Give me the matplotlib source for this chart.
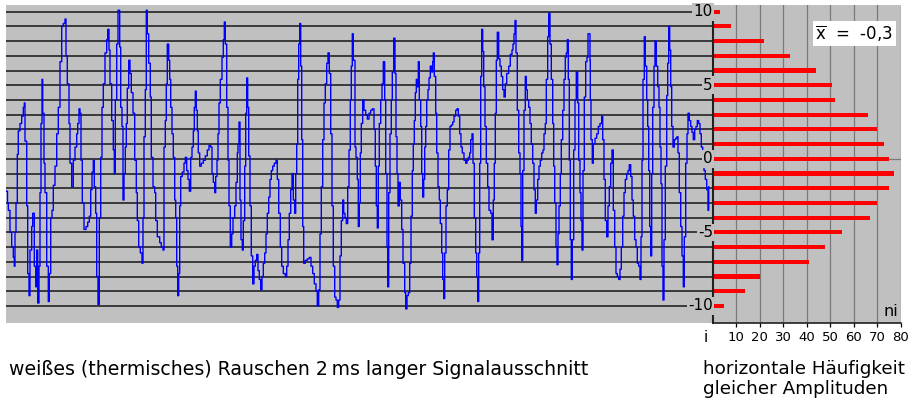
import numpy as np
import matplotlib
matplotlib.use("Agg")
import matplotlib.pyplot as plt

plt.rcParams['font.family'] = ['DejaVu Sans']
plt.rcParams['mathtext.fontset'] = 'dejavusans'

# ---------------- data ----------------
# signal: horizontal sample position (as read, arbitrary units) and amplitude
seg1_pos = [6.7,7.5,8.3,10.0,11.7,13.3,14.3,15.0,16.0,17.3,18.3,20.0,21.7,23.3,24.3,25.0,26.7,27.7,29.0,30.0,
            31.7,32.7,34.3,35.7,36.7,37.7,39.0,40.0,41.0,42.0,42.7,44.0,45.0,46.7,48.3,49.3,50.7,52.0,53.3,55.0,
            56.7,58.3,60.0,61.7,63.3,65.0,66.0,67.3,69.0,70.0,71.7,73.3,75.0,76.7,77.7,79.0,80.0,81.0,82.3,84.0,
            86.0,87.7,89.3,90.7,92.0,93.3,94.3,95.7,96.7,98.0,99.3,100.7,102.0,103.3,105.0,106.7,107.7,109.0,110.0,111.7,
            113.3,114.3,115.3,116.7,118.0]
seg1_val = [-2.2,-3.0,-3.5,-5.0,-6.0,-6.7,-7.3,-5.0,-3.0,0.3,1.9,2.4,2.9,3.5,3.8,1.2,-3.2,-7.8,-9.3,-6.2,
            -4.6,-3.7,-7.3,-8.7,-6.2,-9.8,-7.3,-2.3,2.4,5.4,3.1,-0.3,-2.3,-7.3,-9.7,-7.8,-4.0,-3.5,-1.8,-0.5,
            1.7,3.5,6.6,9.0,9.2,9.5,7.0,5.1,2.4,-0.3,-1.9,-0.1,0.8,1.7,2.4,3.4,3.1,-0.1,-3.0,-4.8,
            -4.6,-4.3,-3.9,-2.1,-0.9,-0.1,-1.9,-3.7,-8.0,-9.9,-4.0,0.1,3.5,5.1,7.2,8.1,8.8,7.4,5.1,2.6,
            0.6,-1.0,4.0,7.8,10.1]

seg2_pos = [119.7,120.7,122.0,123.0,124.0,125.3,126.3,127.3,128.7,130.0,131.3,133.0,134.7,136.3,137.3,138.7,140.3,142.0,143.0,144.0,
            145.3,146.3,147.3,148.7,150.3,151.3,153.0,154.7,155.7,157.3,159.7,161.3,163.0,164.0,165.3,166.3,167.3,168.7,169.7,170.7,
            172.0,173.3,174.7,175.7,176.7,177.7,178.7,179.7,180.7,182.3,184.0,185.3,186.7,188.0,189.3,190.7,192.0,193.3,194.3,195.3,
            196.3,197.3,198.3,199.7,201.3,203.3,205.3,207.3,209.0,210.7,212.0,213.3,214.7,215.7,217.0,218.0,219.0,220.3,222.0,223.3,
            224.3,225.3,226.7,228.0,229.0,230.3,231.7,233.0,234.7,236.0,237.3]
seg2_val = [7.6,3.5,2.2,-2.8,-1.0,0.8,2.4,4.8,6.7,5.8,4.5,3.1,-0.1,-2.3,-4.2,-6.0,-6.4,-7.1,-4.0,1.5,
            4.7,10.1,8.5,6.5,4.2,0.1,-1.9,-2.3,-4.2,-5.3,-5.7,-6.0,-6.2,0.8,2.6,5.1,7.8,6.7,5.4,3.5,
            1.7,0.1,-2.8,-4.0,-7.3,-9.3,-7.8,-3.2,-1.2,-0.9,-0.3,0.1,-0.8,-1.4,-2.2,0.1,0.8,1.9,3.5,4.6,
            3.3,1.9,0.4,-0.5,-0.3,-0.1,0.2,0.6,0.9,0.8,-1.0,-1.6,-2.3,-1.2,-0.1,1.7,3.8,5.4,6.9,8.1,
            9.3,7.8,3.5,-0.1,-3.2,-6.0,-5.1,-4.0,-3.2,-1.6,0.4]

seg3_pos = [238.0,239.0,240.0,241.0,242.3,243.3,244.7,245.7,246.7,247.7,248.7,250.0,251.3,252.7,254.0,255.3,256.7,258.0,259.3,260.7,
            262.0,263.3,264.7,266.0,267.3,268.7,270.0,271.3,272.7,274.3,276.0,277.3,278.7,280.3,281.7,283.3,285.3,286.7,288.0,289.3,
            290.7,292.0,293.3,294.7,295.7,296.7,297.7,298.7,299.7,300.7,301.7,302.7,303.7,305.3,307.3,309.3,311.0,312.7,314.3,316.0,
            317.3,318.7,320.0,321.3,322.7,324.0,325.3,326.7,328.0,329.3,330.7,332.0,333.3,334.7,336.0,337.3,338.7,340.0,341.3,342.7,
            343.7,345.0,346.3,347.7,349.0,350.3,351.3,352.3,353.3]
seg3_val = [1.0,2.5,-2.8,-5.5,-6.2,-4.2,-0.5,3.1,5.5,3.5,0.2,-3.2,-6.6,-8.5,-7.3,-6.9,-6.5,-7.6,-8.2,-8.9,
            -8.0,-7.1,-6.4,-5.1,-3.7,-2.6,-1.4,-0.8,-0.5,-0.3,-0.1,-1.4,-3.7,-6.0,-7.3,-7.8,-8.0,-7.3,-5.5,-3.7,
            -2.1,-1.0,-2.8,-3.7,-1.0,1.0,5.4,7.8,9.2,6.3,1.3,-4.6,-7.1,-6.9,-6.8,-6.7,-7.3,-7.8,-8.5,-9.0,
            -10.0,-8.9,-5.1,-1.9,1.3,3.8,5.1,6.5,7.2,5.8,1.7,-3.2,-7.3,-9.4,-9.6,-10.1,-9.6,-6.6,-4.2,-2.8,
            -3.7,-4.0,-4.4,-1.9,0.6,4.0,6.3,8.5,6.7]

seg4_pos = [354.0,355.0,356.0,357.3,358.3,359.3,360.3,361.3,362.7,364.0,365.7,367.3,369.0,370.7,372.3,374.0,375.3,376.3,377.3,378.3,
            379.3,380.7,382.0,383.3,384.7,385.7,387.0,387.7,388.7,390.0,391.3,392.3,393.7,395.0,396.0,397.0,398.0,399.3,400.3,401.7,
            403.0,404.7,405.7,407.0,408.3,409.7,411.0,412.3,413.3,414.3,415.3,416.3,417.3,418.3,419.3,420.7,421.7,422.7,423.7,424.7,
            425.7,426.7,428.0,429.0,430.3,431.7,432.7,433.3,434.3,435.7,436.7,438.0,439.3,440.3,441.7,442.7,443.7,444.7,446.0,447.3,
            448.7,450.0,451.3,452.7,454.0,455.7,457.0,458.3,459.7,461.0,462.3,464.0,465.7,467.0,468.3,469.7,470.7,472.0]
seg4_val = [6.7,0.8,0.1,-1.4,-4.6,-3.0,0.4,2.4,4.0,3.3,3.0,2.7,3.1,3.3,3.4,2.0,-0.5,-3.2,-4.7,-0.5,
            2.4,4.0,5.1,6.6,4.0,-1.0,-6.0,-8.7,-2.3,1.7,4.0,5.9,8.2,5.8,1.5,-1.0,-3.2,-1.6,-2.8,-4.8,
            -7.1,-9.1,-10.2,-9.3,-9.1,-7.1,-3.9,-0.8,1.0,2.6,4.5,5.4,4.9,6.6,4.0,2.2,-1.0,-2.6,-1.4,0.8,
            2.2,4.0,4.7,5.5,6.3,5.9,6.6,7.2,5.6,3.1,0.4,-1.9,-2.8,-4.4,-6.4,-8.2,-9.5,-6.4,-3.2,-2.1,
            0.6,2.2,2.3,2.5,2.9,3.3,3.4,2.9,1.7,0.8,0.4,-0.1,-0.3,-0.1,0.1,0.4,1.3,1.7]

seg5_pos = [473.0,474.3,475.7,476.7,477.7,478.7,479.7,480.7,481.7,482.7,483.7,485.0,486.3,487.7,489.0,490.7,492.0,493.3,494.3,495.3,
            496.3,497.3,498.7,500.0,501.3,502.7,504.0,505.3,506.7,508.7,510.3,512.0,513.0,514.0,515.0,516.0,517.3,518.7,520.0,521.0,
            521.7,522.7,524.0,525.3,526.3,527.3,528.7,530.0,531.3,532.7,534.0,535.3,536.3,537.7,539.0,540.3,541.7,543.0,544.0,545.3,
            546.3,547.7,548.7,550.0,551.3,552.7,553.7,554.7,556.0,557.0,558.0,559.0,560.3,561.3,562.7,564.0,565.3,566.3,567.3,568.3,
            569.3,570.3,571.3,572.3,573.7,575.0,576.3,577.7,578.7,580.0,581.0,582.0,583.0,584.3,585.7,587.0,588.0]
seg5_val = [-0.3,-4.0,-6.4,-8.0,-9.7,-6.4,-0.3,5.6,8.8,7.3,4.9,2.2,-0.3,-1.9,-3.5,-3.7,-5.5,-2.8,-0.3,3.1,
            6.7,8.6,6.8,6.3,5.6,4.7,4.2,5.1,5.8,6.3,7.1,7.4,7.8,8.5,9.4,7.2,3.3,0.4,-1.0,-4.6,
            -6.9,-0.8,3.3,5.6,4.7,4.0,3.5,2.4,1.0,-0.3,-2.1,-3.7,-2.8,-1.4,-0.5,-0.1,0.4,0.6,1.7,2.4,
            5.4,8.3,9.9,7.8,5.4,2.4,-0.5,-3.0,-6.0,-7.2,-5.1,-3.2,-1.0,1.3,3.3,5.4,6.9,7.2,8.1,5.4,
            -0.1,-5.5,-8.2,-5.5,0.6,4.0,5.9,3.8,-0.1,-2.3,-4.2,-6.2,-0.8,4.2,6.6,6.9,8.5]

seg6_pos = [590.0,590.3,591.0,592.3,593.3,595.0,596.7,598.3,600.0,601.7,602.7,604.0,605.3,606.7,608.0,609.3,610.7,612.0,613.3,614.7,
            616.0,617.3,618.7,620.0,621.3,622.7,624.0,625.3,626.7,628.0,629.3,630.7,632.0,633.3,634.7,636.0,637.3,638.7,640.0,641.0,
            642.0,643.0,644.3,645.3,646.7,647.7,648.7,649.7,650.7,651.7,652.7,654.0,655.0,656.3,657.7,659.0,660.0,661.0,662.0,663.0,
            664.0,665.3,666.7,667.7,668.7,669.7,670.7,671.7,673.0,674.3,675.7,677.0,678.0,679.3,680.7,682.0,683.3,684.3,685.7,687.0,
            688.0,689.3,690.7,692.0,693.3,694.7,696.0,697.3,698.7,700.0,701.3,702.7,704.0,705.3,706.7,708.0,708.7]
seg6_val = [6.7,4.0,1.3,-0.3,1.0,1.4,1.7,2.2,2.4,2.9,1.3,-1.4,-4.2,-5.3,-3.2,-1.9,-0.3,0.6,-3.5,-6.0,
            -7.8,-8.0,-8.2,-7.5,-6.0,-3.9,-2.3,-1.4,-1.0,-0.8,-0.4,-1.2,-2.8,-3.9,-5.5,-6.0,-7.1,-7.3,-8.2,-5.3,
            -0.1,5.4,8.3,6.3,4.0,2.2,-0.8,-4.6,-6.6,-1.0,3.5,6.3,8.0,6.3,4.9,3.5,0.8,-1.7,-7.3,-9.6,
            -5.5,-0.5,4.3,6.5,9.0,7.4,4.9,2.2,0.8,1.3,1.4,1.5,0.4,-2.3,-4.6,-6.6,-8.7,-5.3,-0.3,1.7,
            3.1,2.6,2.2,1.8,1.3,2.0,2.2,2.6,2.4,1.7,0.8,0.1,-0.8,-1.4,-2.1,-3.5,-1.9]

# histogram of equal amplitudes
hist_levels = [10, 9, 8, 7, 6, 5, 4, 3, 2, 1, 0, -1, -2, -3, -4, -5, -6, -7, -8, -9, -10]
hist_counts = [3, 8, 22, 33, 44, 51, 52, 66, 70, 73, 75, 77, 75, 70, 67, 55, 48, 41, 20, 14, 5]
level_labels = [10, 5, 0, -5, -10]
count_ticks = [10, 20, 30, 40, 50, 60, 70, 80]
mean_text = "-0,3"

# --------------- figure ---------------
W, H = 908, 401
fig = plt.figure(figsize=(W / 100, H / 100), dpi=100)
fig.patch.set_facecolor('white')

def rect(x0, y0, x1, y1):
    return [x0 / W, 1 - y1 / H, (x1 - x0) / W, (y1 - y0) / H]

GRAY = '#c0c0c0'
YLIM = (-11.18, 10.455)

ax = fig.add_axes(rect(6, 5, 712.5, 323.3))
ax.set_facecolor(GRAY)
for s in ax.spines.values():
    s.set_visible(False)
ax.set_xticks([]); ax.set_yticks([])
ax.set_xlim(6, 712.5)
ax.set_ylim(*YLIM)

for lv in range(-10, 11):
    ax.axhline(lv, color='#1c1c1c', lw=1.15, zorder=1)

pos = np.concatenate([seg1_pos, seg2_pos, seg3_pos, seg4_pos, seg5_pos, seg6_pos])
val = np.concatenate([seg1_val, seg2_val, seg3_val, seg4_val, seg5_val, seg6_val])
assert len(pos) == len(val), (len(pos), len(val))
ax.plot(pos, val, color='#0000ff', lw=1.0, zorder=3, drawstyle='steps-post')

# histogram panel
axh = fig.add_axes(rect(712.5, 5, 900.7, 323.3))
axh.set_facecolor(GRAY)
axh.set_xlim(0, 80)
axh.set_ylim(*YLIM)
for k in ['top', 'right', 'left']:
    axh.spines[k].set_visible(False)
axh.spines['bottom'].set_color('#202020')
axh.spines['bottom'].set_linewidth(1.2)
for t in count_ticks:
    axh.axvline(t, color='#7a7a7a', lw=0.9, zorder=1)
axh.axhline(0, color='#7a7a7a', lw=0.9, zorder=1)
axh.plot([0, 0], [YLIM[0], 9.6], color='#202020', lw=1.5, zorder=4, clip_on=False)
axh.barh(hist_levels, hist_counts, height=0.28, color='#ff0000', zorder=3)
axh.set_yticks([])
axh.set_xticks(count_ticks)
axh.set_xticklabels([str(t) for t in count_ticks], fontsize=9.5)
axh.tick_params(axis='x', length=3, width=0.9, pad=2.5, colors='black')
axh.text(0.985, 0.015, 'ni', transform=axh.transAxes, ha='right', va='bottom', fontsize=11.5)

# level labels on the signal panel
def yfig(v):
    return ax.transData.transform((0, v))[1] / H

for lv in level_labels:
    fig.text(713 / W, yfig(lv), str(lv), ha='right', va='center', fontsize=11,
             bbox=dict(facecolor=GRAY, edgecolor='none', pad=1.0), zorder=5)

# mean box
fig.text(854.5 / W, 1 - 33.5 / H, r'$\overline{\mathregular{x}}$  =  ' + mean_text,
         ha='center', va='center', fontsize=12,
         bbox=dict(facecolor='white', edgecolor='none', pad=2.0), zorder=6)

fig.text(704 / W, 1 - 342 / H, 'i', ha='left', va='baseline', fontsize=11)

fig.text(9 / W, 1 - 375 / H, 'weißes (thermisches) Rauschen 2\u2009ms langer Signalausschnitt',
         ha='left', va='baseline', fontsize=13.6)
fig.text(703 / W, 1 - 374 / H, 'horizontale Häufigkeit', ha='left', va='baseline', fontsize=13.2)
fig.text(703 / W, 1 - 393.5 / H, 'gleicher Amplituden', ha='left', va='baseline', fontsize=13.2)

fig.savefig('out.png', dpi=100)
